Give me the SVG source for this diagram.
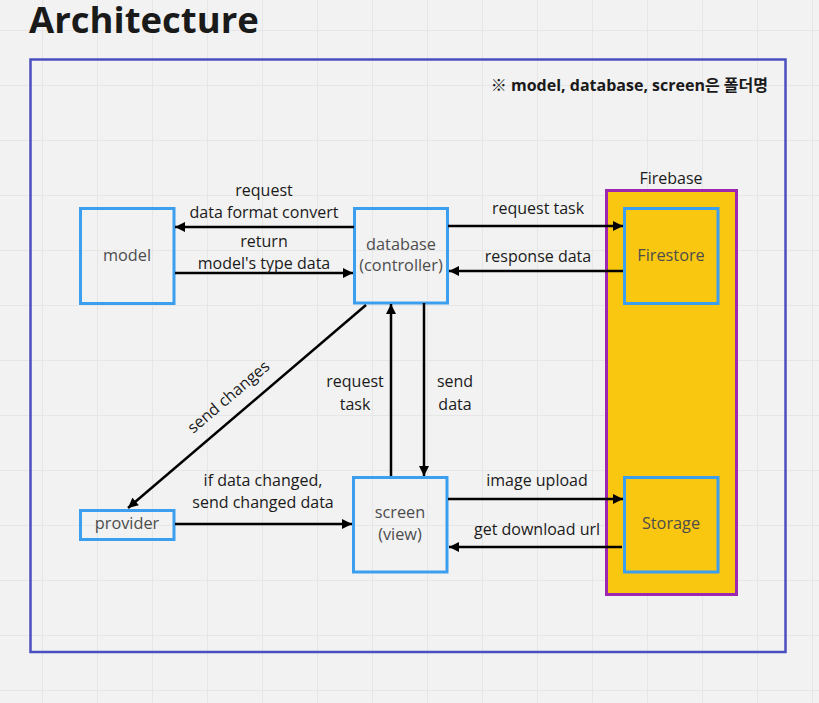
<svg xmlns="http://www.w3.org/2000/svg" width="819" height="703" viewBox="0 0 819 703">
<defs>
<pattern id="grid" x="42" y="30" width="55" height="55" patternUnits="userSpaceOnUse">
<path d="M0.5,0 V55 M0,0.5 H55" stroke="#e6e6e6" stroke-width="1" fill="none"/>
</pattern>
<marker id="ah" markerUnits="userSpaceOnUse" viewBox="0 0 10 10" refX="10" refY="5" markerWidth="11" markerHeight="10" orient="auto">
<path d="M0,0 L10,5 L0,10 z" fill="#000"/>
</marker>
</defs>
<style>
.lbl{font-family:"Open Sans","Noto Sans CJK KR",sans-serif;font-size:16px;fill:#1a1a1a;text-anchor:middle}
.nt{font-family:"Open Sans","Noto Sans CJK KR",sans-serif;font-size:16.3px;fill:#4d4d4d;text-anchor:middle}
.box{fill:none;stroke:#3c9eee;stroke-width:3}
.ybox{fill:#fac710;stroke:#3c9eee;stroke-width:3}
.conn line{stroke:#000;stroke-width:2.5;marker-end:url(#ah)}
</style>
<rect width="819" height="703" fill="#f2f2f2"/>
<rect width="819" height="703" fill="url(#grid)"/>
<text x="29" y="33" style="font-family:'Open Sans',sans-serif;font-weight:700;font-size:36.5px;fill:#1a1a1a">Architecture</text>
<g id="frame">
<rect x="30.5" y="59.5" width="755" height="592.5" fill="none" stroke="#4b4fbe" stroke-width="2.5"/>
<text x="768" y="91" style="font-family:'Open Sans','Noto Sans CJK KR',sans-serif;font-weight:700;font-size:16px;fill:#1a1a1a;text-anchor:end">※ model, database, screen은 폴더명</text>
</g>
<g id="firebase">
<rect x="606.5" y="190.5" width="130" height="404" fill="#fac710" stroke="#9c27b0" stroke-width="3"/>
<text class="nt" x="671" y="184" style="fill:#1a1a1a;font-size:16px">Firebase</text>
</g>
<g id="model">
<rect class="box" x="80.5" y="208.5" width="93.5" height="95"/>
<text class="nt" x="127" y="261">model</text>
</g>
<g id="database">
<rect class="box" x="354.5" y="208.5" width="93" height="94.5"/>
<text class="nt" x="401" y="250">database</text>
<text class="nt" x="401" y="271">(controller)</text>
</g>
<g id="firestore">
<rect class="ybox" x="624.5" y="208.5" width="93.5" height="95"/>
<text class="nt" x="671" y="261">Firestore</text>
</g>
<g id="storage">
<rect class="ybox" x="624.5" y="477.5" width="93.5" height="94.5"/>
<text class="nt" x="671" y="529">Storage</text>
</g>
<g id="provider">
<rect class="box" x="80.5" y="510.5" width="93.5" height="29"/>
<text class="nt" x="127" y="529">provider</text>
</g>
<g id="screen">
<rect class="box" x="353.5" y="477.5" width="93.5" height="94.5"/>
<text class="nt" x="400" y="518">screen</text>
<text class="nt" x="400" y="540">(view)</text>
</g>
<g id="connectors" class="conn">
<line x1="354" y1="227" x2="175" y2="227"/>
<line x1="175" y1="273" x2="353" y2="273"/>
<line x1="448" y1="226" x2="623" y2="226"/>
<line x1="623" y1="271" x2="449" y2="271"/>
<line x1="366" y1="305" x2="128" y2="508"/>
<line x1="391" y1="476" x2="391" y2="304"/>
<line x1="424" y1="303" x2="424" y2="476"/>
<line x1="175" y1="524" x2="352" y2="524"/>
<line x1="448" y1="499" x2="623" y2="499"/>
<line x1="622" y1="547" x2="449" y2="547"/>
</g>
<g id="labels">
<text class="lbl" x="264" y="196">request</text>
<text class="lbl" x="264" y="218">data format convert</text>
<text class="lbl" x="264" y="247">return</text>
<text class="lbl" x="264" y="269">model's type data</text>
<text class="lbl" x="538" y="214">request task</text>
<text class="lbl" x="538" y="262">response data</text>
<text class="lbl" transform="translate(232,401) rotate(-40.5)">send changes</text>
<text class="lbl" x="355" y="387">request</text>
<text class="lbl" x="355" y="410">task</text>
<text class="lbl" x="455" y="387">send</text>
<text class="lbl" x="455" y="410">data</text>
<text class="lbl" x="263" y="486">if data changed,</text>
<text class="lbl" x="263" y="508">send changed data</text>
<text class="lbl" x="537" y="486">image upload</text>
<text class="lbl" x="537" y="535">get download url</text>
</g>
</svg>
